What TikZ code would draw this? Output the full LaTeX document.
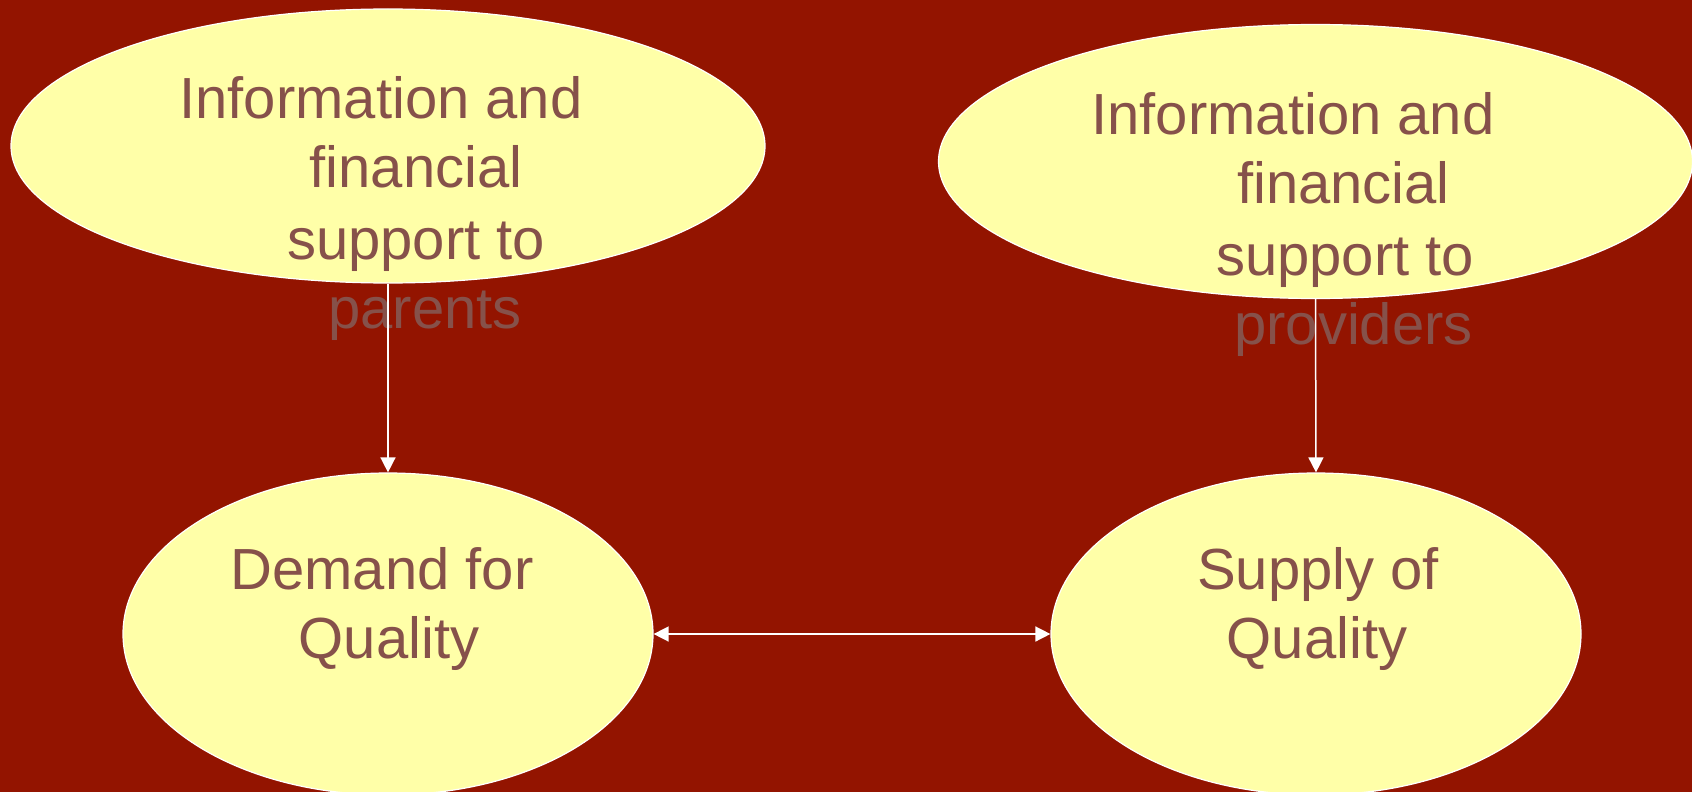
\documentclass[tikz,border=0pt]{standalone}
\usepackage{fontspec}
\setmainfont{Liberation Sans}
\usetikzlibrary{shapes.geometric,arrows.meta}
\definecolor{bgred}{RGB}{147,20,0}
\definecolor{ellfill}{RGB}{255,255,168}
\definecolor{txtbrown}{RGB}{134,81,74}
\tikzset{
  bubble/.style={ellipse, fill=ellfill, draw=white, line width=1.2pt, inner sep=0pt},
  lbl/.style={text=txtbrown, font=\fontsize{58}{70}\selectfont, inner sep=0pt, anchor=base},
  conn/.style={draw=white, line width=1.5pt, -{Triangle[length=15pt,width=15pt]}},
  conn2/.style={draw=white, line width=1.5pt, {Triangle[length=15pt,width=15pt]}-{Triangle[length=15pt,width=15pt]}}
}
\begin{document}
\begin{tikzpicture}[x=1pt,y=-1pt]
\useasboundingbox (0,0) rectangle (1692,792);
\fill[bgred] (0,0) rectangle (1692,792);
% ellipses
\node[bubble, minimum width=754pt, minimum height=274pt] (infoP) at (388,146) {};
\node[bubble, minimum width=754pt, minimum height=274pt] (infoS) at (1315.5,161.5) {};
\node[bubble, minimum width=530pt, minimum height=322pt] (demand) at (388,634) {};
\node[bubble, minimum width=530pt, minimum height=322pt] (supply) at (1316,634) {};
% texts of top-left
\node[lbl] (tl1) at (381,118) {Information and};
\node[lbl] (tl2) at (416,187) {financial};
\node[lbl] (tl3) at (416,259) {support to};
\node[lbl] (tl4) at (425,328) {parents};
% texts of top-right
\node[lbl] (tr1) at (1293,134) {Information and};
\node[lbl] (tr2) at (1343.5,203) {financial};
\node[lbl] (tr3) at (1345,275) {support to};
\node[lbl] (tr4) at (1353.5,344) {providers};
% bottom texts
\node[lbl] (bl1) at (382,589) {Demand for};
\node[lbl] (bl2) at (389,658) {Quality};
\node[lbl] (br1) at (1318,589) {Supply of};
\node[lbl] (br2) at (1317,658) {Quality};
% connectors
\draw[conn] (infoP.south) -- (demand.north);
\draw[conn] (infoS.south) -- (supply.north);
\draw[conn2] (demand.east) -- (supply.west);
\end{tikzpicture}
\end{document}
